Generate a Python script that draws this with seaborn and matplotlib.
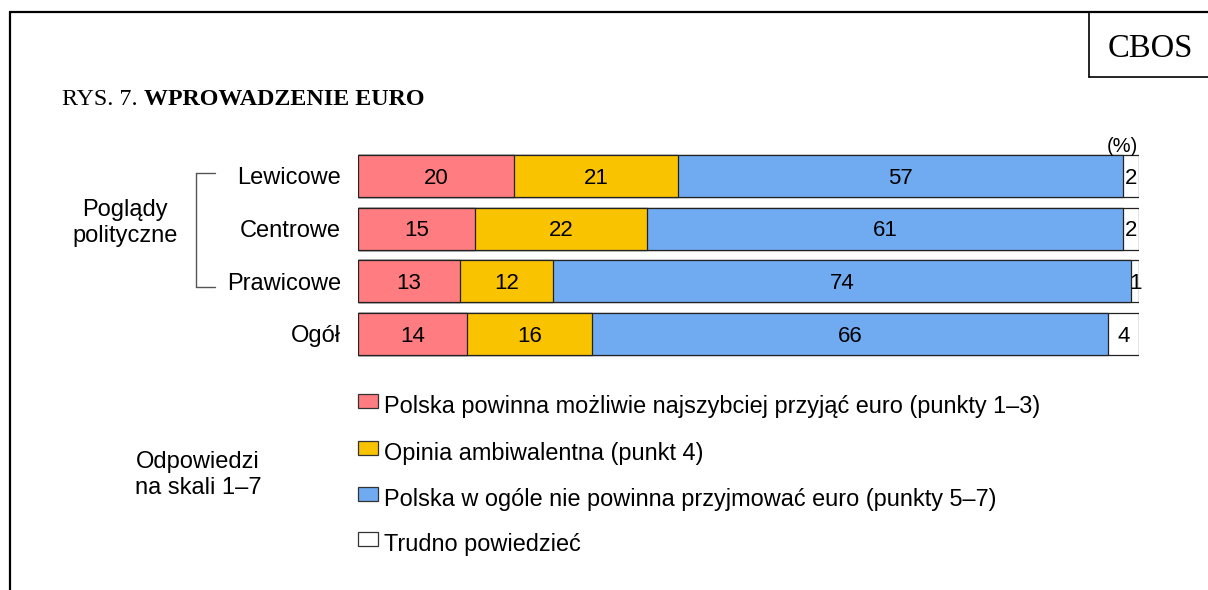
import matplotlib
matplotlib.use("Agg")
import matplotlib.pyplot as plt
import seaborn as sns
import pandas as pd
import numpy as np
from matplotlib.lines import Line2D
from matplotlib.patches import Rectangle

categories = ["Lewicowe", "Centrowe", "Prawicowe", "Ogół"]
series_names = [
    "Polska powinna możliwie najszybciej przyjąć euro (punkty 1–3)",
    "Opinia ambiwalentna (punkt 4)",
    "Polska w ogóle nie powinna przyjmować euro (punkty 5–7)",
    "Trudno powiedzieć",
]
s_fast = [20, 15, 13, 14]
s_ambi = [21, 22, 12, 16]
s_no = [57, 61, 74, 66]
s_dk = [2, 2, 1, 4]
colors = ["#FF7C80", "#F9C300", "#70ABF2", "#FFFFFF"]

sns.set_theme(style="white")
plt.rcParams["font.family"] = ["Liberation Sans", "DejaVu Sans"]

W, H = 1208, 590
fig = plt.figure(figsize=(W / 100, H / 100), dpi=100)

def fx(x):
    return x / W

def fy(y):
    return 1 - y / H

# axes placement
left_px, right_px = 358, 1139
top_px, bot_px = 149.75, 359.75
ax = fig.add_axes([fx(left_px), fy(bot_px), (right_px - left_px) / W, (bot_px - top_px) / H])

series = [s_fast, s_ambi, s_no, s_dk]
cums = np.cumsum(np.array(series, dtype=float), axis=0)
df = pd.DataFrame({"cat": categories})
for i in range(4):
    df[f"c{i}"] = cums[i]

for i in reversed(range(4)):
    sns.barplot(data=df, x=f"c{i}", y="cat", color=colors[i], saturation=1,
                orient="h", width=0.8, edgecolor="#222222", linewidth=0.9,
                errorbar=None, ax=ax)

ax.set_xlim(0, 100)
ax.set_ylim(3.5, -0.5)
ax.axis("off")

# value labels
for i in range(4):
    starts = cums[i] - np.array(series[i])
    for j, v in enumerate(series[i]):
        ax.text(starts[j] + v / 2, j, f"{v}", ha="center", va="center_baseline",
                fontsize=16, color="black")

# category labels
for j, c in enumerate(categories):
    ax.text(-2.2, j, c, ha="right", va="center_baseline", fontsize=17,
            transform=ax.transData, color="black")

# frame lines
fig.add_artist(Line2D([fx(10), fx(10)], [fy(12), fy(592)], color="black", lw=1.6))
fig.add_artist(Line2D([fx(10), fx(1210)], [fy(12), fy(12)], color="black", lw=1.6))
fig.add_artist(Line2D([fx(1089), fx(1089)], [fy(12), fy(77)], color="black", lw=1.2))
fig.add_artist(Line2D([fx(1089), fx(1210)], [fy(77), fy(77)], color="black", lw=1.2))
fig.text(fx(1150), fy(45), "CBOS", ha="center", va="center_baseline", fontsize=23.5,
         family="Liberation Serif", color="black")

# title
t1 = fig.text(fx(62), fy(97), "RYS. 7. ", ha="left", va="center_baseline", fontsize=17.3,
              family="Liberation Serif", color="black")
fig.canvas.draw()
bb = t1.get_window_extent(renderer=fig.canvas.get_renderer())
fig.text(bb.x1 / W, fy(97), "WPROWADZENIE EURO", ha="left", va="center_baseline",
         fontsize=17.3, family="Liberation Serif", fontweight="bold", color="black")

# (%)
fig.text(fx(1122), fy(144), "(%)", ha="center", va="center_baseline", fontsize=14.5,
         color="black")

# bracket
bc = "#555555"
fig.add_artist(Line2D([fx(196), fx(196)], [fy(173), fy(287)], color=bc, lw=1.0))
fig.add_artist(Line2D([fx(196), fx(215)], [fy(173), fy(173)], color=bc, lw=1.0))
fig.add_artist(Line2D([fx(196), fx(215)], [fy(287), fy(287)], color=bc, lw=1.0))
fig.text(fx(125), fy(223), "Poglądy\npolityczne", ha="center", va="center",
         fontsize=17, linespacing=1.25, color="black")

# legend
fig.text(fx(198), fy(475), "Odpowiedzi\nna skali 1–7", ha="center", va="center",
         fontsize=17, linespacing=1.25, color="black")
leg_y = [401, 448, 494, 539]
for i, (name, yy) in enumerate(zip(series_names, leg_y)):
    fig.add_artist(Rectangle((fx(358), fy(yy + 7)), 20 / W, 14 / H,
                             facecolor=colors[i], edgecolor="#333333", lw=0.9,
                             transform=fig.transFigure))
    fig.text(fx(384), fy(yy + 3), name, ha="left", va="center_baseline", fontsize=16.9,
             color="black")

fig.savefig("out.png", dpi=100)
